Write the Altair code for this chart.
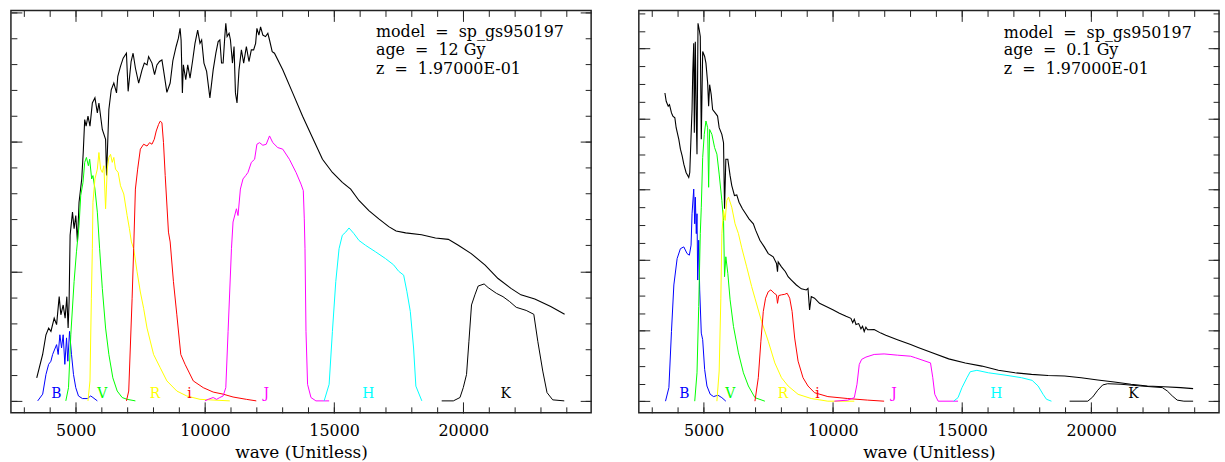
import altair as alt
import pandas as pd

FONT = "DejaVu Serif"
FRAME = "#222222"

# ---------------- axes / ranges ----------------
X_DOMAIN = [2490, 24950]
YL_DOMAIN = [-0.46, 15.06]
YR_DOMAIN = [-0.66, 22.16]
X_MAJOR = [5000, 10000, 15000, 20000]
X_MINOR = list(range(3000, 25000, 1000))
YL_MAJOR = [0, 5, 10, 15]
YL_MINOR = list(range(0, 16))
YR_MAJOR = [0, 4, 8, 12, 16, 20]
YR_MINOR = list(range(0, 23))

BANDS = ["B", "V", "R", "i", "J", "H", "K"]
BAND_COLORS = ["#0000ff", "#00ff00", "#ffff00", "#ff0000", "#ff00ff", "#00ffff", "#000000"]
LABEL_WAVE = [4250, 6025, 8070, 9405, 12370, 16325, 21640]
LABEL_Y_LEFT = 0.27
LABEL_Y_RIGHT = 0.39

INFO_LEFT = ["model\u00a0 =\u00a0 sp_gs950197", "age\u00a0 =\u00a0 12 Gy", "z\u00a0 =\u00a0 1.97000E-01"]
INFO_RIGHT = ["model\u00a0 =\u00a0 sp_gs950197", "age\u00a0 =\u00a0 0.1 Gy", "z\u00a0 =\u00a0 1.97000E-01"]
INFO_WAVE = 16620
INFO_Y_LEFT = [14.21, 13.52, 12.80]
INFO_Y_RIGHT = [20.90, 19.89, 18.83]

# ---------------- left panel (age 12 Gy) ----------------
L_SPEC = [(3489, 0.89), (3589, 1.28), (3718, 1.79), (3846, 2.55), (3950, 2.81), (4038, 2.68),
          (4165, 3.19), (4258, 2.94), (4358, 4.02), (4423, 3.32), (4512, 3.70), (4588, 3.19),
          (4654, 4.02), (4704, 2.81), (4742, 3.83), (4781, 6.39), (4873, 7.28), (4935, 6.64),
          (5000, 7.15), (5065, 6.13), (5127, 7.66), (5231, 8.56), (5290, 9.60), (5346, 10.85),
          (5400, 10.60), (5473, 10.98), (5550, 10.60), (5642, 11.49), (5742, 11.69), (5835, 11.11),
          (5896, 11.49), (6027, 10.47), (6154, 10.09), (6192, 8.69), (6281, 11.24), (6373, 12.00),
          (6473, 12.26), (6577, 11.88), (6627, 12.52), (6731, 12.90), (6835, 13.22), (6961, 13.41),
          (7027, 11.94), (7142, 13.09), (7219, 13.41), (7308, 12.84), (7435, 12.26), (7565, 12.77),
          (7654, 13.03), (7758, 12.96), (7819, 13.28), (7950, 13.03), (8050, 12.58), (8142, 12.96),
          (8242, 13.09), (8335, 13.15), (8396, 12.77), (8527, 11.90), (8654, 12.26), (8758, 13.12),
          (8885, 13.67), (8973, 13.99), (9038, 14.37), (9077, 13.92), (9127, 11.88), (9165, 12.96),
          (9258, 12.39), (9335, 12.96), (9423, 12.45), (9527, 13.15), (9615, 13.79), (9719, 14.30),
          (9808, 13.79), (9873, 13.92), (9962, 13.03), (10065, 12.71), (10192, 11.69), (10319, 12.77),
          (10423, 13.41), (10512, 13.86), (10577, 13.92), (10642, 13.03), (10704, 13.03), (10769, 14.05),
          (10808, 14.56), (10858, 14.05), (10935, 14.18), (10988, 13.92), (11065, 13.03), (11127, 13.67),
          (11181, 11.88), (11242, 11.49), (11319, 12.77), (11412, 13.54), (11500, 13.03), (11604, 13.67),
          (11704, 13.09), (11796, 13.54), (11885, 13.54), (11962, 13.79), (12012, 14.37), (12089, 14.11),
          (12154, 14.43), (12242, 14.11), (12346, 14.05), (12435, 14.18), (12500, 13.92), (12604, 13.47),
          (12692, 13.41), (13012, 12.77), (13396, 11.88), (13781, 10.98), (14165, 10.15), (14550, 9.32),
          (14935, 8.81), (15319, 8.43), (15642, 8.17), (15962, 7.73), (16346, 7.34), (16731, 7.02),
          (17115, 6.72), (17400, 6.55), (17769, 6.48), (18385, 6.41), (18923, 6.28), (19423, 6.23),
          (19808, 6.00), (20308, 5.68), (20846, 5.24), (21346, 4.72), (21846, 4.34), (22231, 4.09),
          (22769, 3.93), (23385, 3.64), (23923, 3.34)]

L_B = [(3527, 0), (3719, 0.26), (3846, 1.02), (3950, 1.41), (4038, 1.53), (4104, 1.79), (4204, 2.04),
       (4258, 2.17), (4319, 1.79), (4385, 2.55), (4450, 2.04), (4512, 2.55), (4577, 1.41), (4642, 2.43),
       (4692, 1.53), (4758, 2.68), (4835, 1.79), (4912, 1.02), (5000, 0.51), (5104, 0.19), (5258, 0.09),
       (5450, 0.09), (5577, 0.19), (5665, 0.13), (5835, 0)]
L_V = [(4615, 0), (4719, 0.51), (4808, 2.55), (4935, 4.60), (5027, 5.75), (5127, 6.77), (5192, 7.92),
       (5281, 8.43), (5346, 9.20), (5412, 9.39), (5488, 9.07), (5538, 9.32), (5615, 8.56), (5665, 8.69),
       (5742, 8.17), (5835, 7.28), (5923, 5.87), (6027, 4.34), (6154, 2.81), (6281, 1.79), (6435, 0.89),
       (6604, 0.38), (6796, 0.13), (6988, 0.06), (7308, 0)]
L_R = [(5473, 0), (5550, 0.77), (5604, 3.96), (5642, 5.87), (5665, 7.66), (5742, 8.56), (5835, 8.94),
       (5896, 9.58), (5962, 8.94), (6027, 8.81), (6088, 9.07), (6154, 7.41), (6219, 8.94), (6281, 9.39),
       (6346, 9.51), (6412, 9.20), (6473, 9.39), (6538, 8.94), (6642, 8.81), (6731, 8.30), (6858, 7.98),
       (6988, 7.15), (7077, 6.64), (7154, 6.13), (7242, 5.87), (7373, 4.98), (7500, 4.20), (7627, 3.57),
       (7758, 2.81), (8012, 1.79), (8269, 1.28), (8527, 0.77), (8912, 0.38), (9296, 0.19), (9808, 0.06),
       (10962, 0)]
L_I = [(6962, 0), (7050, 0.38), (7181, 3.96), (7242, 5.87), (7308, 8.17), (7396, 8.94), (7500, 9.71),
       (7627, 9.90), (7758, 9.83), (7858, 9.96), (7950, 9.90), (8038, 10.09), (8115, 10.41), (8204, 10.66),
       (8269, 10.79), (8335, 10.73), (8396, 9.96), (8462, 8.69), (8588, 6.51), (8654, 6.13), (8781, 4.60),
       (8912, 3.32), (9065, 1.79), (9231, 1.41), (9550, 0.77), (9935, 0.51), (10319, 0.34), (10704, 0.26),
       (11088, 0.15), (11604, 0.06), (11988, 0)]
L_J = [(10000, 0), (10127, 0.06), (10319, 0.13), (10450, 0.06), (10577, 0.13), (10704, 0.19), (10808, 0.51),
       (10896, 2.68), (11027, 5.87), (11088, 6.90), (11219, 7.41), (11281, 7.15), (11373, 8.17), (11473, 8.56),
       (11577, 8.69), (11665, 8.81), (11796, 9.20), (11923, 9.32), (12012, 9.90), (12115, 9.96), (12242, 9.86),
       (12373, 9.90), (12500, 10.22), (12627, 9.96), (12819, 9.77), (13012, 9.71), (13269, 9.32), (13527, 8.81),
       (13719, 8.36), (13808, 8.11), (13846, 7.02), (13873, 5.87), (13912, 2.68), (13973, 0.64), (14104, 0.13),
       (14296, 0), (14808, 0)]
L_H = [(14615, 0), (14808, 0.64), (14935, 2.68), (15065, 4.60), (15192, 5.87), (15319, 6.39), (15450, 6.51),
       (15577, 6.67), (15769, 6.45), (15962, 6.19), (16219, 6.00), (16604, 5.75), (16988, 5.49), (17300, 5.25),
       (17500, 5.00), (17692, 4.85), (17819, 4.21), (17950, 3.45), (18077, 2.04), (18165, 0.57), (18396, 0)]
L_K = [(19165, 0), (19615, 0), (19873, 0.13), (20000, 0.51), (20127, 1.02), (20219, 2.30), (20319, 3.70),
       (20450, 4.09), (20577, 4.43), (20808, 4.51), (20962, 4.37), (21281, 4.15), (21538, 4.02), (21796, 3.83),
       (22050, 3.61), (22435, 3.49), (22731, 3.34), (22885, 2.30), (23077, 1.15), (23242, 0.32), (23462, 0.04),
       (23910, 0)]

# ---------------- right panel (age 0.1 Gy) ----------------
R_SPEC = [(3500, 17.48), (3550, 17.01), (3627, 16.73), (3677, 16.82), (3754, 16.35), (3808, 16.17),
          (3885, 16.07), (3935, 15.51), (4038, 14.85), (4100, 14.29), (4165, 13.92), (4231, 13.44),
          (4319, 12.97), (4423, 12.69), (4462, 12.97), (4512, 15.04), (4550, 16.54), (4577, 18.61),
          (4615, 20.30), (4638, 15.23), (4677, 20.39), (4715, 15.98), (4742, 14.01), (4781, 21.43),
          (4831, 21.05), (4869, 20.68), (4908, 14.85), (4962, 19.83), (5038, 19.55), (5088, 19.17),
          (5154, 18.05), (5192, 16.73), (5231, 17.95), (5292, 17.39), (5346, 16.54), (5446, 16.35),
          (5538, 16.17), (5600, 15.51), (5704, 15.13), (5769, 14.66), (5808, 10.91), (5858, 13.72),
          (5935, 13.72), (6023, 12.79), (6088, 12.23), (6192, 11.66), (6281, 11.70), (6369, 11.28),
          (6500, 10.91), (6627, 10.63), (6754, 10.34), (6923, 10.06), (7011, 9.70), (7177, 9.13),
          (7346, 8.75), (7500, 8.37), (7692, 8.19), (7819, 7.81), (7858, 7.34), (7885, 7.90),
          (8012, 7.62), (8165, 7.34), (8269, 7.06), (8396, 6.87), (8588, 6.59), (8781, 6.37),
          (8973, 6.31), (9038, 6.40), (9100, 5.18), (9165, 5.93), (9292, 5.84), (9485, 5.55),
          (9742, 5.37), (10000, 5.18), (10254, 4.99), (10512, 4.81), (10700, 4.70), (10769, 4.45),
          (10830, 4.65), (10896, 4.35), (11000, 4.40), (11088, 4.10), (11150, 4.25), (11215, 3.95),
          (11280, 4.20), (11346, 4.05), (11600, 4.06), (11858, 3.86), (12050, 3.74), (12500, 3.49),
          (13012, 3.21), (13300, 3.05), (13846, 2.74), (14485, 2.40), (15127, 2.17), (15769, 1.99),
          (16408, 1.75), (17050, 1.61), (17692, 1.52), (18331, 1.46), (18973, 1.43), (19615, 1.33),
          (20254, 1.20), (20896, 1.09), (21538, 0.96), (22177, 0.86), (22819, 0.82), (23462, 0.77),
          (23946, 0.71)]

R_B = [(3523, 0), (3654, 0.77), (3754, 3.96), (3846, 6.59), (3973, 8.09), (4100, 8.65), (4231, 8.75),
       (4358, 8.37), (4446, 8.28), (4512, 8.85), (4550, 10.63), (4615, 12.03), (4654, 10.06), (4677, 11.57),
       (4715, 9.50), (4742, 10.63), (4769, 6.87), (4808, 9.13), (4846, 6.31), (4908, 3.86), (4962, 3.49),
       (5038, 1.80), (5127, 0.86), (5254, 0.39), (5385, 0.26), (5550, 0.34), (5704, 0.20), (5858, 0)]
R_V = [(4654, 0), (4742, 1.61), (4808, 5.37), (4869, 9.50), (4908, 11.00), (4962, 13.82), (5023, 15.13),
       (5088, 15.89), (5154, 15.51), (5192, 12.13), (5231, 15.41), (5319, 15.13), (5423, 14.38), (5512, 14.01),
       (5600, 12.88), (5704, 11.38), (5769, 10.25), (5808, 7.06), (5858, 8.19), (5935, 7.25), (6023, 5.75),
       (6154, 4.24), (6346, 2.74), (6538, 1.61), (6731, 0.86), (6985, 0.20), (7369, 0)]
R_R = [(5512, 0), (5600, 1.71), (5665, 5.84), (5704, 9.50), (5769, 10.82), (5831, 10.25), (5896, 11.38),
       (5962, 11.57), (6088, 11.00), (6215, 10.06), (6346, 9.50), (6473, 8.70), (6665, 7.62), (6858, 6.50),
       (6985, 5.84), (7242, 4.52), (7500, 3.40), (7754, 2.17), (8012, 1.33), (8269, 0.86), (8654, 0.39),
       (9165, 0.15), (9808, 0), (10831, 0)]
R_I = [(6985, 0), (7115, 1.33), (7215, 3.40), (7308, 5.09), (7396, 5.84), (7500, 6.21), (7600, 6.31),
       (7731, 6.12), (7819, 6.03), (7858, 5.55), (7908, 5.99), (8012, 6.03), (8139, 6.06), (8231, 6.12),
       (8331, 5.84), (8423, 5.09), (8523, 3.58), (8654, 2.27), (8846, 1.33), (9038, 0.86), (9292, 0.48),
       (9808, 0.26), (10577, 0.15), (11346, 0.06), (11985, 0)]
R_J = [(10062, 0), (10577, 0.06), (10831, 0.20), (10935, 0.96), (11023, 2.08), (11115, 2.37), (11281, 2.50),
       (11600, 2.65), (11985, 2.68), (12500, 2.61), (13012, 2.55), (13204, 2.46), (13781, 2.17), (13869, 1.33),
       (13946, 0.39), (14077, 0), (14846, 0)]
R_H = [(14677, 0), (14846, 0.20), (15000, 0.77), (15192, 1.33), (15319, 1.67), (15577, 1.75), (16023, 1.61),
       (16665, 1.48), (17308, 1.33), (17715, 1.18), (17946, 0.86), (18138, 0.39), (18269, 0.11), (18462, 0)]
R_K = [(19165, 0), (19869, 0), (20062, 0.24), (20254, 0.62), (20446, 0.92), (20638, 0.99), (21154, 0.96),
       (21923, 0.86), (22754, 0.77), (22946, 0.58), (23138, 0.30), (23331, 0.06), (23589, 0), (23946, 0)]


def axis(orient, values, size, labels=False, title=False):
    kw = dict(orient=orient, values=values, tickSize=size, offset=-size, domain=False, grid=False,
              ticks=True, tickColor=FRAME, tickWidth=1, labels=labels)
    if labels:
        kw.update(labelFont=FONT, labelFontSize=16, labelColor="#000000", labelPadding=10,
                  labelOverlap=False, labelFlush=False, format="d")
    if title:
        kw.update(title="wave (Unitless)", titleFont=FONT, titleFontSize=17, titleFontWeight="normal",
                  titleColor="#000000", titlePadding=6)
    return alt.Axis(**kw)


def panel(spec, filters, ydom, ymaj, ymin, label_y, info, info_y):
    xs = alt.Scale(domain=X_DOMAIN, nice=False, zero=False)
    ys = alt.Scale(domain=ydom, nice=False, zero=False)

    spec_df = pd.DataFrame(spec, columns=["wave", "flux"])
    rows = []
    for band, color, pts in zip(BANDS, BAND_COLORS, filters):
        for w, r in pts:
            rows.append({"band": band, "clr": color, "wave": w, "resp": r})
    filt_df = pd.DataFrame(rows)
    lab_df = pd.DataFrame({"band": BANDS, "clr": BAND_COLORS, "wave": LABEL_WAVE,
                           "y": [label_y] * len(BANDS)})
    info_df = pd.DataFrame({"line": info, "wave": [INFO_WAVE] * 3, "y": info_y})

    spec_l = alt.Chart(spec_df).mark_line(color="black", strokeWidth=1.1).encode(
        x=alt.X("wave:Q", scale=xs, axis=axis("bottom", X_MAJOR, 11, labels=True, title=True)),
        y=alt.Y("flux:Q", scale=ys, axis=axis("left", ymaj, 11), title=None),
    )
    filt_l = alt.Chart(filt_df).mark_line(strokeWidth=1).encode(
        x=alt.X("wave:Q", scale=xs, axis=axis("bottom", X_MINOR, 6), title=None),
        y=alt.Y("resp:Q", scale=ys, axis=axis("left", ymin, 6), title=None),
        color=alt.Color("clr:N", scale=None),
        detail="band:N",
    )
    lab_t = alt.Chart(lab_df).mark_text(font=FONT, fontSize=14, align="center", baseline="middle").encode(
        x=alt.X("wave:Q", scale=xs, axis=axis("top", X_MAJOR, 11), title=None),
        y=alt.Y("y:Q", scale=ys, axis=axis("right", ymaj, 11), title=None),
        text="band:N",
        color=alt.Color("clr:N", scale=None),
    )
    info_t = alt.Chart(info_df).mark_text(font=FONT, fontSize=16, align="left", baseline="middle",
                                          color="#000000").encode(
        x=alt.X("wave:Q", scale=xs, axis=axis("top", X_MINOR, 6), title=None),
        y=alt.Y("y:Q", scale=ys, axis=axis("right", ymin, 6), title=None),
        text="line:N",
    )
    return alt.layer(spec_l, filt_l, lab_t, info_t).resolve_axis(
        x="independent", y="independent").properties(width=584, height=405)


left = panel(L_SPEC, [L_B, L_V, L_R, L_I, L_J, L_H, L_K], YL_DOMAIN, YL_MAJOR, YL_MINOR,
             LABEL_Y_LEFT, INFO_LEFT, INFO_Y_LEFT)
right = panel(R_SPEC, [R_B, R_V, R_R, R_I, R_J, R_H, R_K], YR_DOMAIN, YR_MAJOR, YR_MINOR,
              LABEL_Y_RIGHT, INFO_RIGHT, INFO_Y_RIGHT)

chart = alt.hconcat(left, right, spacing=44).properties(
    padding={"left": 9, "top": 7, "right": 4, "bottom": 0},
    background="white",
).configure_view(stroke=FRAME, strokeWidth=1.5)

chart.save("out.html", embed_options={"renderer": "svg", "actions": False})
